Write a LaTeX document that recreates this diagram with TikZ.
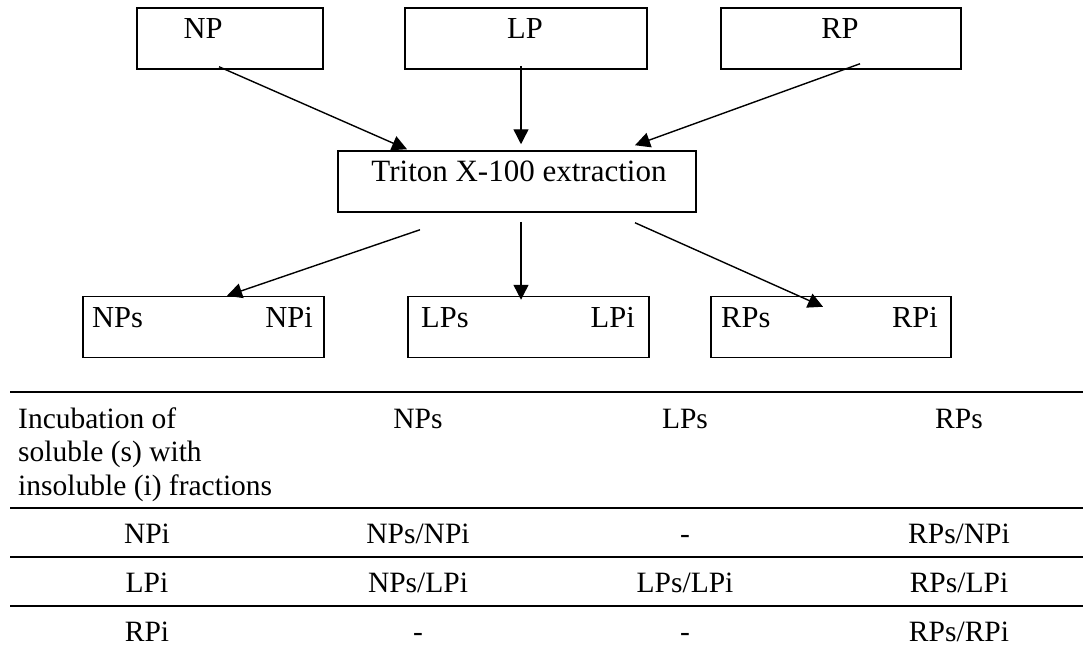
\documentclass[tikz,border=0pt]{standalone}
\usepackage{fontspec}
\setmainfont{Liberation Serif}
\usetikzlibrary{arrows.meta,calc}
\begin{document}
\begin{tikzpicture}[x=1pt,y=-1pt,
  box/.style={draw,line width=1.5pt,inner sep=0pt,minimum height=61pt},
  lbl/.style={inner sep=0pt,anchor=base,font=\fontsize{30.5}{33.5}\selectfont},
  tlbl/.style={inner sep=0pt,anchor=base,font=\fontsize{29.5}{33.5}\selectfont},
  arr/.style={line width=1.4pt,-{Triangle[length=15pt,width=15pt]}},
  rule/.style={line width=1.2pt}]
\useasboundingbox (0,0) rectangle (1086,653);
% top boxes
\node[box,minimum width=186pt] (np) at (230,38.5) {};
\node[box,minimum width=242pt] (lp) at (526,38.5) {};
\node[box,minimum width=240pt] (rp) at (841,38.5) {};
\node[lbl] (tnp) at (203,38) {NP};
\node[lbl] (tlp) at (525,38) {LP};
\node[lbl] (trp) at (840,38) {RP};
% triton
\node[box,minimum width=358pt] (tx) at (517,181.5) {};
\node[lbl,font=\fontsize{31}{33.5}\selectfont] (ttx) at (519,181) {Triton X-100 extraction};
% bottom boxes
\node[box,minimum width=241pt] (npb) at (203.5,327) {};
\node[box,minimum width=241pt] (lpb) at (528.5,327) {};
\node[box,minimum width=240pt] (rpb) at (831,327) {};
\node[lbl,anchor=base west] (nps) at (92,327) {NPs};
\node[lbl,anchor=base east] (npi) at (313,327) {NPi};
\node[lbl,anchor=base west] (lps) at (421,327) {LPs};
\node[lbl,anchor=base east] (lpi) at (635,327) {LPi};
\node[lbl,anchor=base west] (rps) at (721,327) {RPs};
\node[lbl,anchor=base east] (rpi) at (938,327) {RPi};
% arrows
\draw[arr] ($(np.south)+(-11,-3)$) -- ($(tx.north)+(-110,-1)$);
\draw[arr] ($(lp.south)+(-5,-4)$) -- ($(tx.north)+(4,-6)$);
\draw[arr] ($(rp.south)+(19,-6)$) -- ($(tx.north)+(118,-5)$);
\draw[arr] ($(tx.south)+(-97,17)$) -- ($(npb.north)+(23.5,0)$);
\draw[arr] ($(tx.south)+(4,9)$) -- ($(lpb.north)+(-7.5,4)$);
\draw[arr] ($(tx.south)+(118,10)$) -- ($(rpb.north)+(-8,11)$);
% table
\coordinate (tl) at (10,392);
\coordinate (tr) at (1083,392);
\draw[rule] (tl) -- (tr);
\draw[rule] ($(tl)+(0,116)$) -- ($(tr)+(0,116)$);
\draw[rule] ($(tl)+(0,165)$) -- ($(tr)+(0,165)$);
\draw[rule] ($(tl)+(0,214)$) -- ($(tr)+(0,214)$);
\node[tlbl,anchor=base west,align=left] (hdr) at (18,495) {Incubation of\\soluble (s) with\\insoluble (i) fractions};
\node[tlbl] (h2) at (418,428) {NPs};
\node[tlbl] (h3) at (685,428) {LPs};
\node[tlbl] (h4) at (959,428) {RPs};
\node[tlbl] (r1a) at (147,543) {NPi};
\node[tlbl] (r1b) at (418,543) {NPs/NPi};
\node[tlbl] (r1c) at (685,543) {-};
\node[tlbl] (r1d) at (959,543) {RPs/NPi};
\node[tlbl] (r2a) at (147,592) {LPi};
\node[tlbl] (r2b) at (418,592) {NPs/LPi};
\node[tlbl] (r2c) at (685,592) {LPs/LPi};
\node[tlbl] (r2d) at (959,592) {RPs/LPi};
\node[tlbl] (r3a) at (147,641) {RPi};
\node[tlbl] (r3b) at (418,641) {-};
\node[tlbl] (r3c) at (685,641) {-};
\node[tlbl] (r3d) at (959,641) {RPs/RPi};
\end{tikzpicture}
\end{document}
